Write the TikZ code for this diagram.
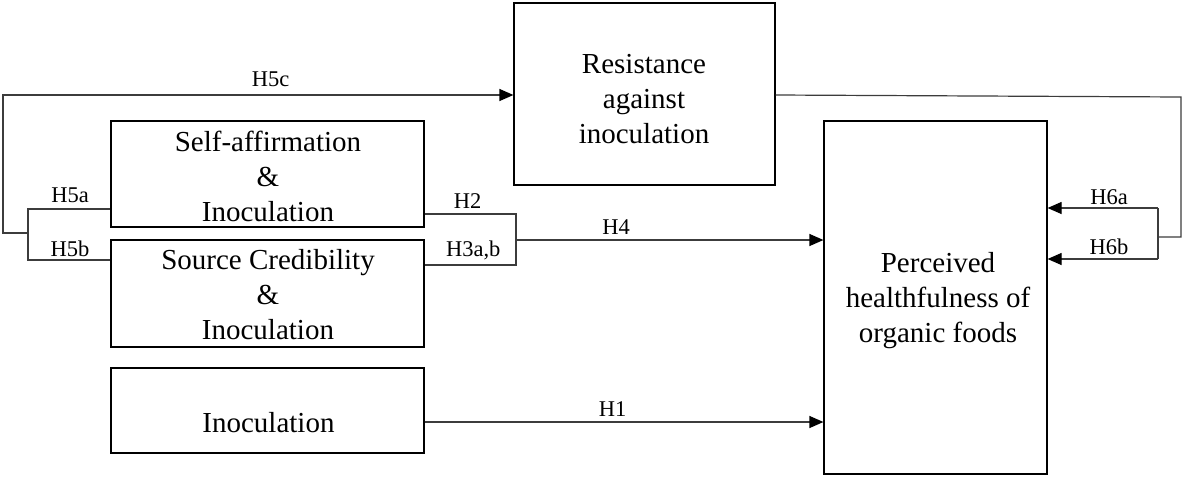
\documentclass[tikz,border=0pt]{standalone}
\usepackage{fontspec}
\setmainfont{Liberation Serif}
\usetikzlibrary{arrows.meta}
\newcommand\bxfont{\fontsize{29pt}{35pt}\selectfont}
\newcommand\lblfont{\fontsize{22.5pt}{26pt}\selectfont}
\begin{document}
\begin{tikzpicture}[x=1pt,y=-1pt,
  box/.style={draw=black,line width=1.2pt,inner sep=0pt,rectangle},
  txt/.style={inner sep=0pt,align=center,font=\bxfont},
  lbl/.style={inner sep=0pt,anchor=base,font=\lblfont},
  conn/.style={draw={rgb,255:red,60;green,60;blue,60},line width=1.2pt},
  arr/.style={conn,-{Triangle[length=14pt,width=12pt,color=black]}}]
\useasboundingbox (0,0) rectangle (1183,477);

% boxes
\node[box,minimum width=261pt,minimum height=182pt] (res) at (644.5,94) {};
\node[box,minimum width=313pt,minimum height=106pt] (sa) at (267.5,174) {};
\node[box,minimum width=313pt,minimum height=107pt] (sc) at (267.5,293.5) {};
\node[box,minimum width=313pt,minimum height=85pt] (ino) at (267.5,410.5) {};
\node[box,minimum width=223pt,minimum height=353pt] (per) at (935.5,297.5) {};

% box texts
\node[txt] (rest) at (644,99.5) {Resistance\\against\\inoculation};
\node[txt] (sat) at (268,176) {Self-affirmation\\\&\\Inoculation};
\node[txt] (sct) at (268,295) {Source Credibility\\\&\\Inoculation};
\node[txt,anchor=base] (inot) at (268.5,432) {Inoculation};
\node[txt] (pert) at (938,301) {Perceived\\healthfulness of\\organic foods};

% coordinates for bends
\coordinate (b5t) at (28,209);
\coordinate (b5b) at (28,260);
\coordinate (j5) at (28,233);
\coordinate (l5) at (3,233);
\coordinate (t5) at (3,95);
\coordinate (b2t) at (516,214);
\coordinate (b2b) at (516,265);
\coordinate (j4) at (516,240);
\coordinate (h1) at (600,422);
\coordinate (r0) at (700,95);
\coordinate (r1) at (1181,97);
\coordinate (r2) at (1181,237);
\coordinate (b6j) at (1158,237);
\coordinate (b6t) at (1158,208);
\coordinate (b6b) at (1158,259);

% left bracket and H5c loop
\draw[conn] (sa.west |- b5t) -- (b5t) -- (b5b) -- (sc.west |- b5b);
\draw[arr] (j5) -- (l5) -- (t5) -- (res.west |- t5);

% middle bracket and H4
\draw[conn] (sa.east |- b2t) -- (b2t) -- (b2b) -- (sc.east |- b2b);
\draw[arr] (j4) -- (per.west |- j4);

% H1
\draw[arr] (ino.east |- h1) -- (per.west |- h1);

% right loop
\draw[conn] (res.east |- r0) -- (r1) -- (r2) -- (b6j);
\draw[conn] (b6t) -- (b6b);
\draw[arr] (b6t) -- (per.east |- b6t);
\draw[arr] (b6b) -- (per.east |- b6b);

% labels
\node[lbl] (lh5c) at (270.5,86.7) {H5c};
\node[lbl] (lh5a) at (70,202.7) {H5a};
\node[lbl] (lh5b) at (70,256.7) {H5b};
\node[lbl] (lh2) at (467.5,208.3) {H2};
\node[lbl] (lh3) at (473.3,256.7) {H3a,b};
\node[lbl] (lh4) at (616,234.5) {H4};
\node[lbl] (lh1) at (612.5,416.7) {H1};
\node[lbl] (lh6a) at (1109,204) {H6a};
\node[lbl] (lh6b) at (1109,254) {H6b};
\end{tikzpicture}
\end{document}
